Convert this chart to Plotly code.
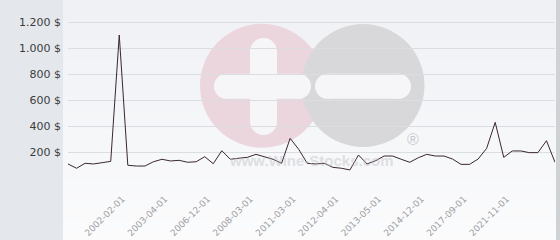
import plotly.graph_objects as go

dates = [
    "2000-11-01", "2001-03-01", "2001-05-01", "2001-07-01", "2001-09-01", "2001-12-01",
    "2002-02-01", "2002-05-01", "2002-09-01", "2002-11-01", "2003-02-01",
    "2003-04-01", "2003-10-01", "2004-06-01", "2005-04-01", "2006-03-01",
    "2006-12-01", "2007-03-01", "2007-06-01", "2007-10-01", "2008-01-01",
    "2008-03-01", "2008-11-01", "2009-06-01", "2010-04-01", "2010-10-01",
    "2011-03-01", "2011-06-01", "2011-09-01", "2011-11-01", "2012-02-01",
    "2012-04-01", "2012-07-01", "2012-10-01", "2012-12-01", "2013-03-01",
    "2013-05-01", "2013-09-01", "2014-01-01", "2014-05-01", "2014-09-01",
    "2014-12-01", "2015-06-01", "2016-01-01", "2016-08-01", "2017-03-01",
    "2017-09-01", "2018-06-01", "2019-05-01", "2020-04-01", "2021-03-01",
    "2021-11-01", "2022-04-01", "2022-10-01", "2023-04-01", "2023-10-01",
    "2024-04-01", "2024-10-01",
]

prices = [
    108, 75, 113, 108, 118, 128, 1100, 98, 92, 92,
    125, 144, 131, 136, 121, 125, 164, 110, 210, 144,
    152, 159, 182, 164, 144, 113, 305, 221, 113, 108,
    113, 82, 75, 62, 177, 108, 133, 169, 169, 144,
    121, 156, 182, 169, 169, 146, 105, 105, 146, 228,
    428, 159, 208, 208, 195, 195, 287, 121,
]

tick_labels = [
    "2002-02-01", "2003-04-01", "2006-12-01", "2008-03-01", "2011-03-01",
    "2012-04-01", "2013-05-01", "2014-12-01", "2017-09-01", "2021-11-01",
]

y_ticks = [0, 200, 400, 600, 800, 1000, 1200]
y_tick_text = ["", "200 $", "400 $", "600 $", "800 $", "1.000 $", "1.200 $"]

W, H = 560, 240
ML, MR, MT, MB = 68, 5, 9, 62
PW, PH = W - ML - MR, H - MT - MB


def px_x(x):
    return (x - ML) / PW


def px_y(y):
    return (H - MB - y) / PH


shapes = []

# background gradient for the chart panel
n = 24
for i in range(n):
    t = i / (n - 1)
    c0 = (239, 241, 245)
    c1 = (251, 251, 252)
    c = tuple(int(round(c0[k] + (c1[k] - c0[k]) * t)) for k in range(3))
    y0 = H * i / n
    y1 = H * (i + 1) / n + 0.5
    shapes.append(dict(type="rect", xref="paper", yref="paper",
                       x0=px_x(63), x1=px_x(556), y0=px_y(y1), y1=px_y(y0),
                       fillcolor="rgb(%d,%d,%d)" % c, line_width=0, layer="below"))

# left panel
shapes.append(dict(type="rect", xref="paper", yref="paper",
                   x0=px_x(0), x1=px_x(63), y0=px_y(H), y1=px_y(0),
                   fillcolor="#e4e8ec", line_width=0, layer="below"))
# right border strip
shapes.append(dict(type="rect", xref="paper", yref="paper",
                   x0=px_x(556), x1=px_x(W), y0=px_y(H), y1=px_y(0),
                   fillcolor="#cfd2d5", line_width=0, layer="below"))


def circle(cx, cy, r, color):
    return dict(type="circle", xref="paper", yref="paper",
                x0=px_x(cx - r), x1=px_x(cx + r), y0=px_y(cy + r), y1=px_y(cy - r),
                fillcolor=color, line_width=0, layer="below")


def rect(x0, y0, x1, y1, color):
    return dict(type="rect", xref="paper", yref="paper",
                x0=px_x(x0), x1=px_x(x1), y0=px_y(y1), y1=px_y(y0),
                fillcolor=color, line_width=0, layer="below")


def hbar(x0, x1, cy, h, color):
    r = h / 2
    return [rect(x0 + r, cy - r, x1 - r, cy + r, color),
            circle(x0 + r, cy, r, color), circle(x1 - r, cy, r, color)]


def vbar(cx, y0, y1, w, color):
    r = w / 2
    return [rect(cx - r, y0 + r, cx + r, y1 - r, color),
            circle(cx, y0 + r, r, color), circle(cx, y1 - r, r, color)]


pink = "#ecd6dd"
grey = "#d8d8da"
bar = "#f6f6f8"
shapes.append(circle(262, 85.7, 62, pink))
shapes.append(circle(363, 85.5, 61.5, grey))
shapes += vbar(263.5, 38, 135, 27, bar)
shapes += hbar(214, 311, 86.3, 25, bar)
shapes += hbar(315, 411, 86.3, 25, bar)

annotations = [
    dict(xref="paper", yref="paper", x=px_x(311), y=px_y(160), text="<b>www.Wine-Stocks.com</b>",
         showarrow=False, font=dict(family="Liberation Sans", size=15, color="rgba(190,190,196,0.45)"),
         xanchor="center", yanchor="middle"),
    dict(xref="paper", yref="paper", x=px_x(413), y=px_y(139), text="®",
         showarrow=False, font=dict(family="Liberation Sans", size=16, color="rgba(180,180,186,0.7)"),
         xanchor="center", yanchor="middle"),
]

fig = go.Figure()
fig.add_trace(go.Scatter(x=dates, y=prices, mode="lines",
                         line=dict(color="#3a2630", width=1), hoverinfo="skip"))

fig.update_layout(
    width=W, height=H,
    margin=dict(l=ML, r=MR, t=MT, b=MB, autoexpand=False),
    paper_bgcolor="#f7f8fa",
    plot_bgcolor="rgba(0,0,0,0)",
    showlegend=False,
    shapes=shapes,
    annotations=annotations,
    xaxis=dict(type="category", range=[0, len(dates) - 1], tickmode="array",
               tickvals=tick_labels, ticktext=tick_labels, tickangle=-45,
               showgrid=False, zeroline=False, showline=False, ticks="",
               automargin=False,
               ticklabelstandoff=13, ticklabelshift=3,
               tickfont=dict(family="DejaVu Sans", size=9, color="#a0a0a3")),
    yaxis=dict(range=[0, 1300], tickmode="array", tickvals=y_ticks, ticktext=y_tick_text,
               showgrid=True, gridcolor="#dcdde0", gridwidth=1, zeroline=False,
               showline=False, ticks="", ticklabelstandoff=6, automargin=False,
               tickfont=dict(family="DejaVu Sans", size=11, color="#3c3c3c")),
)

fig.write_html("out.html")
